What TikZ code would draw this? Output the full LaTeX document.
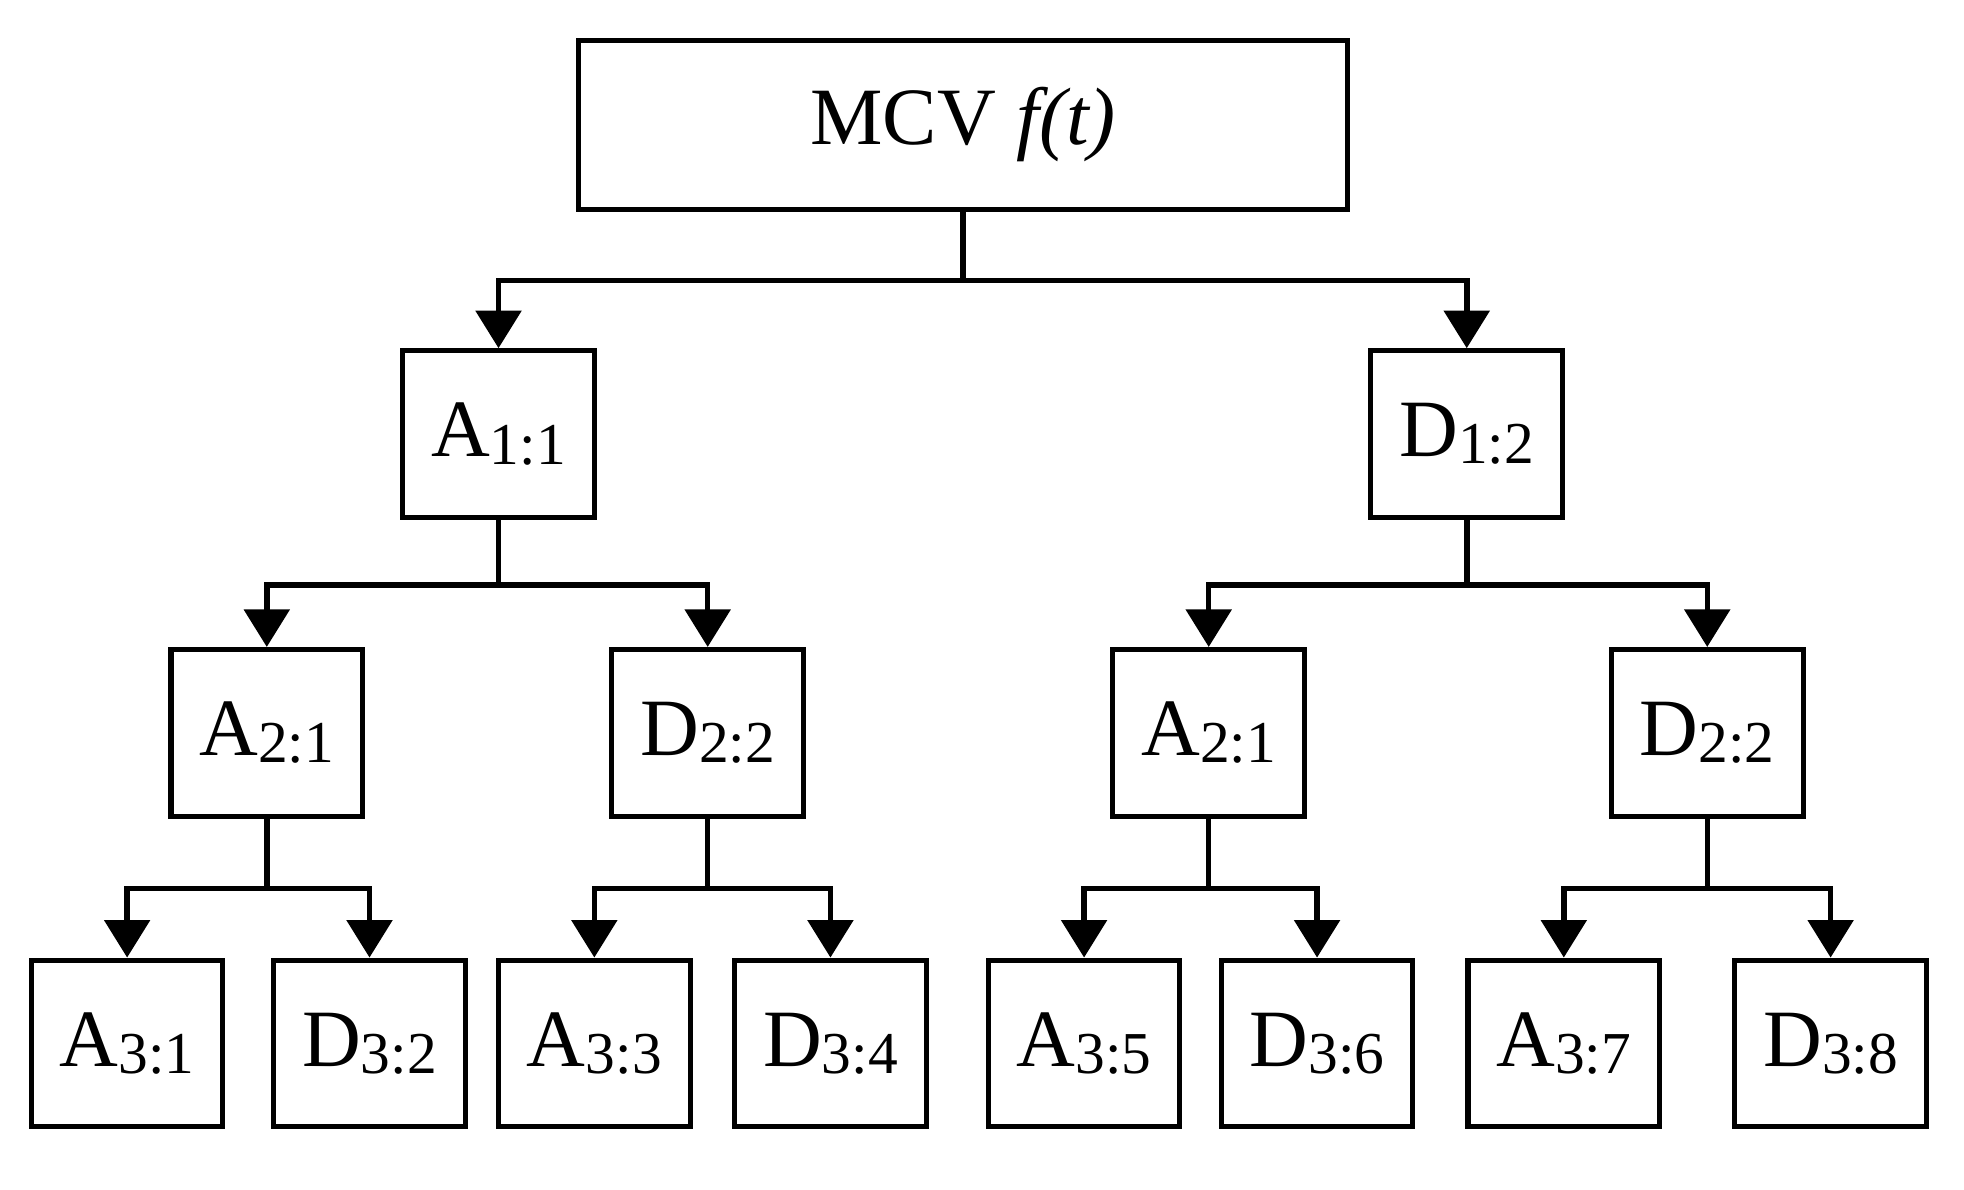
\documentclass[tikz,border=0pt]{standalone}
\usepackage{fontspec}
\setmainfont{Liberation Serif}
\usetikzlibrary{arrows.meta}
\newcommand{\lab}[2]{{\fontsize{37}{40}\selectfont #1}{\fontsize{27}{30}\selectfont\raisebox{-0.12em}{#2}}}
\begin{document}
\begin{tikzpicture}[x=0.02cm,y=-0.02cm,
  box/.style={draw,line width=2.3pt,minimum width=3.06cm,minimum height=2.66cm,inner sep=0pt},
  arr/.style={line width=2.5pt,-{Triangle[length=0.6cm,width=0.72cm]}}]
\useasboundingbox (0,0) rectangle (1568,950);
\node[draw,line width=2.3pt,minimum width=12.28cm,minimum height=2.7cm] (top) at (769,99.5) {\fontsize{37}{40}\selectfont MCV \textit{f(t)}};
\node[box] (a1) at (398,346.5) {\lab{A}{1:1}};
\node[box] (d1) at (1171,346.5) {\lab{D}{1:2}};
\node[box] (a21) at (213,585) {\lab{A}{2:1}};
\node[box] (d22) at (565,585) {\lab{D}{2:2}};
\node[box] (a23) at (965,585) {\lab{A}{2:1}};
\node[box] (d24) at (1363,585) {\lab{D}{2:2}};
\node[box] (b1) at (101.5,833) {\lab{A}{3:1}};
\node[box] (b2) at (295,833) {\lab{D}{3:2}};
\node[box] (b3) at (474.5,833) {\lab{A}{3:3}};
\node[box] (b4) at (663,833) {\lab{D}{3:4}};
\node[box] (b5) at (865.5,833) {\lab{A}{3:5}};
\node[box] (b6) at (1051.5,833) {\lab{D}{3:6}};
\node[box] (b7) at (1248.5,833) {\lab{A}{3:7}};
\node[box] (b8) at (1461.5,833) {\lab{D}{3:8}};
\foreach \p/\c/\h in {top/a1/55,top/d1/55,a1/a21/52,a1/d22/52,d1/a23/52,d1/d24/52,
  a21/b1/56,a21/b2/56,d22/b3/56,d22/b4/56,a23/b5/56,a23/b6/56,d24/b7/56,d24/b8/56}
  \draw[arr] (\p.south) -- ++(0,\h) -| (\c.north);
\end{tikzpicture}
\end{document}
